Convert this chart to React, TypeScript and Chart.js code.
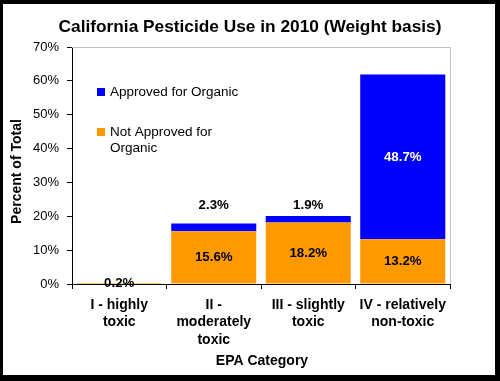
import { useEffect, useRef } from 'react';
import { Chart, registerables } from 'chart.js';

Chart.register(...registerables);

const chartTitle = 'California Pesticide Use in 2010 (Weight basis)';
const yTitle = 'Percent of Total';
const xTitle = 'EPA Category';
const categories: string[][] = [
  ['I - highly', 'toxic'],
  ['II -', 'moderately', 'toxic'],
  ['III - slightly', 'toxic'],
  ['IV - relatively', 'non-toxic'],
];
const notApproved = [0.2, 15.6, 18.2, 13.2];
const approved = [0, 2.3, 1.9, 48.7];
const seriesNames = ['Not Approved for Organic', 'Approved for Organic'];
const legendLines = [['Approved for Organic'], ['Not Approved for', 'Organic']];
const yMin = 0;
const yMax = 70;
const yStep = 10;

const ORANGE = '#FF9900';
const BLUE = '#0000FF';
const FONT = '"Liberation Sans", Arial, sans-serif';

const fmt = (v: number) => v.toFixed(1) + '%';

const framePlugin = {
  id: 'frame',
  beforeDraw(chart: any) {
    const { ctx, width, height } = chart;
    ctx.save();
    ctx.fillStyle = '#000';
    ctx.fillRect(0, 0, width, height);
    ctx.fillStyle = '#fff';
    ctx.fillRect(3, 4, width - 8, height - 10);
    ctx.restore();
  },
  afterDraw(chart: any) {
    const { ctx, chartArea } = chart;
    const { left, right, top, bottom } = chartArea;
    ctx.save();
    ctx.strokeStyle = '#c0c0c0';
    ctx.lineWidth = 1;
    ctx.beginPath();
    ctx.moveTo(left, top + 0.5);
    ctx.lineTo(right + 0.5, top + 0.5);
    ctx.lineTo(right + 0.5, bottom);
    ctx.stroke();

    ctx.fillStyle = '#000';
    ctx.textAlign = 'center';
    ctx.textBaseline = 'middle';
    ctx.font = 'bold 17.3px ' + FONT;
    ctx.fillText(chartTitle, 250, 27);

    ctx.font = 'bold 14px ' + FONT;
    ctx.fillText(xTitle, (left + right) / 2 + 1, 361);

    ctx.save();
    ctx.translate(17, (top + bottom) / 2 + 6);
    ctx.rotate(-Math.PI / 2);
    ctx.font = 'bold 14px ' + FONT;
    ctx.fillText(yTitle, 0, 0);
    ctx.restore();

    const colors = [BLUE, ORANGE];
    const rowY = [top + 45, top + 85];
    ctx.font = '13.5px ' + FONT;
    ctx.textAlign = 'left';
    legendLines.forEach((lines, i) => {
      ctx.fillStyle = colors[i];
      ctx.fillRect(left + 25, rowY[i] - 4, 8, 8);
      ctx.fillStyle = '#000';
      lines.forEach((ln, j) => {
        ctx.fillText(ln, left + 38, rowY[i] + j * 16);
      });
    });
    ctx.restore();
  },
};

const labelPlugin = {
  id: 'barLabels',
  afterDatasetsDraw(chart: any) {
    const { ctx } = chart;
    ctx.save();
    ctx.font = 'bold 13.3px ' + FONT;
    ctx.textAlign = 'center';
    ctx.textBaseline = 'middle';
    const m0 = chart.getDatasetMeta(0);
    const m1 = chart.getDatasetMeta(1);
    m0.data.forEach((el: any, i: number) => {
      const v = notApproved[i];
      if (!v) return;
      const p = el.getProps(['x', 'y', 'base'], true);
      ctx.fillStyle = '#000';
      ctx.fillText(fmt(v), p.x, (p.y + p.base) / 2);
    });
    const above: { x: number; top: number; v: number }[] = [];
    m1.data.forEach((el: any, i: number) => {
      const v = approved[i];
      if (!v) return;
      const p = el.getProps(['x', 'y', 'base'], true);
      const h = Math.abs(p.base - p.y);
      if (h >= 20) {
        ctx.fillStyle = '#fff';
        ctx.fillText(fmt(v), p.x, (p.y + p.base) / 2);
      } else {
        above.push({ x: p.x, top: Math.min(p.y, p.base), v });
      }
    });
    if (above.length) {
      const rowY = Math.min(...above.map((a) => a.top)) - 11;
      ctx.fillStyle = '#000';
      above.forEach((a) => ctx.fillText(fmt(a.v), a.x, rowY));
    }
    ctx.restore();
  },
};

export default function App() {
  const ref = useRef<HTMLCanvasElement | null>(null);
  useEffect(() => {
    document.body.style.margin = '0';
    if (!ref.current) return;
    const chart = new Chart(ref.current, {
      type: 'bar',
      data: {
        labels: categories,
        datasets: [
          { label: seriesNames[0], data: notApproved, backgroundColor: ORANGE, borderWidth: 0, minBarLength: 1 },
          { label: seriesNames[1], data: approved, backgroundColor: BLUE, borderWidth: 0 },
        ],
      },
      options: {
        responsive: false,
        animation: false,
        layout: { padding: { left: 0, top: 47, right: 50, bottom: 0 } },
        plugins: {
          legend: { display: false },
          title: { display: false },
          tooltip: { enabled: false },
        },
        datasets: { bar: { categoryPercentage: 1, barPercentage: 0.9 } },
        scales: {
          x: {
            stacked: true,
            afterFit: (s: any) => {
              s.height = 97;
            },
            grid: { drawOnChartArea: false, drawTicks: true, tickLength: 5, color: '#000', offset: true },
            border: { color: '#000', width: 1 },
            ticks: {
              autoSkip: false,
              maxRotation: 0,
              padding: 7,
              color: '#000',
              font: { family: FONT, size: 14, weight: 'bold', lineHeight: 1.25 },
            },
          },
          y: {
            stacked: true,
            min: yMin,
            max: yMax,
            afterFit: (s: any) => {
              s.width = 72;
            },
            grid: { drawOnChartArea: false, drawTicks: true, tickLength: 5, color: '#000' },
            border: { color: '#000', width: 1 },
            ticks: {
              stepSize: yStep,
              padding: 8,
              color: '#000',
              font: { family: FONT, size: 13 },
              callback: (v: any) => v + '%',
            },
          },
        },
      },
      plugins: [framePlugin, labelPlugin],
    });
    return () => chart.destroy();
  }, []);
  return <canvas ref={ref} width={500} height={381} style={{ display: 'block' }} />;
}
